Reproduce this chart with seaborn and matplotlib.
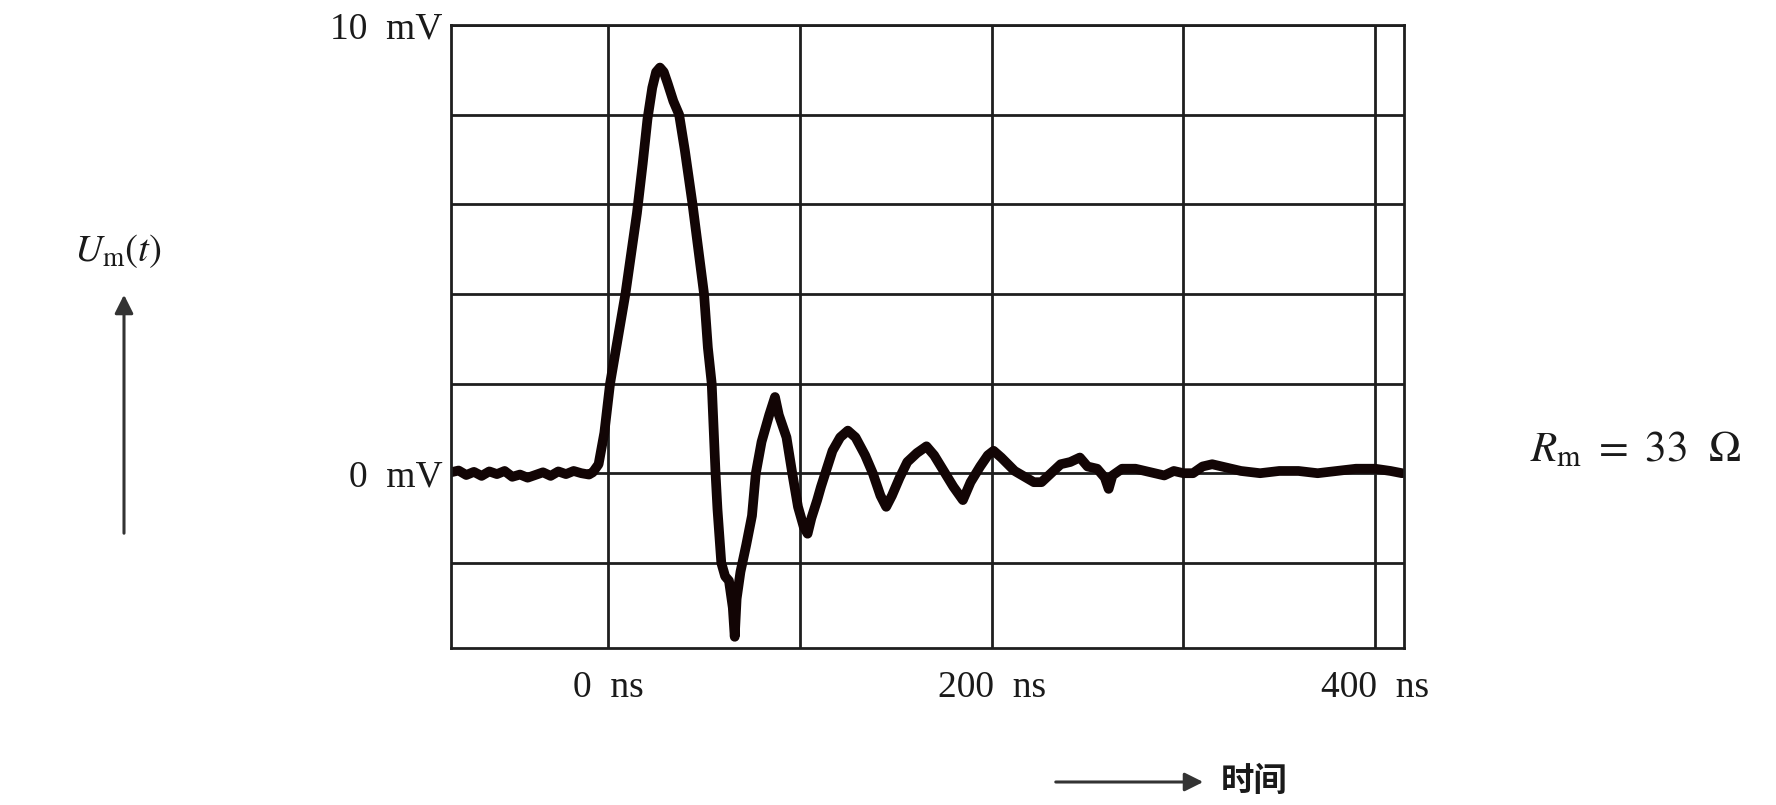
import pandas as pd
import seaborn as sns
import matplotlib.pyplot as plt

# waveform (time in ns, voltage in mV)
time_ns = [-82, -78, -74, -70, -66, -62, -58, -54, -50, -46, -42, -38, -34, -30, -26, -22, -18, -14, -10, -8,
           -5, -2, 1, 5, 9, 12, 15, 18, 20.5, 23, 25, 27, 29, 31, 34, 37, 40, 44, 47, 50, 52, 54,
           56, 57, 59, 61, 63, 65, 66, 67, 69, 72, 75, 77, 80, 84, 87, 89, 91, 93, 96, 99,
           102, 104, 106, 109, 111, 114, 117, 121, 125, 129, 134, 138, 142, 145, 148, 152, 156,
           161, 166, 170, 175, 180, 185, 189, 194, 198, 201, 205, 212, 218, 222, 226, 231, 236,
           241, 246, 250, 255, 259, 261, 263, 268, 275, 280, 285, 290, 295, 300, 305, 310, 315,
           320, 330, 340, 350, 360, 370, 380, 390, 400, 408, 414]
volt_mv = [0.02, 0.06, -0.04, 0.03, -0.06, 0.04, -0.02, 0.05, -0.08, -0.03, -0.1, -0.04, 0.02, -0.06, 0.04, -0.02, 0.05, 0.0, -0.03, 0.02,
           0.2, 0.9, 2.0, 3.0, 4.0, 4.9, 5.8, 6.9, 7.9, 8.6, 8.95, 9.05, 8.95, 8.7, 8.3, 8.0, 7.2, 6.0, 5.0, 4.0, 2.8, 2.0,
           0.0, -0.8, -2.0, -2.3, -2.4, -3.0, -3.65, -2.8, -2.2, -1.6, -0.95, 0.0, 0.7, 1.3, 1.7, 1.3, 1.05, 0.8, 0.0, -0.75,
           -1.2, -1.35, -1.0, -0.6, -0.3, 0.1, 0.5, 0.8, 0.95, 0.8, 0.4, 0.0, -0.5, -0.75, -0.5, -0.1, 0.25,
           0.45, 0.6, 0.4, 0.05, -0.3, -0.6, -0.2, 0.15, 0.4, 0.5, 0.35, 0.05, -0.1, -0.2, -0.2, 0.0, 0.2,
           0.25, 0.35, 0.15, 0.1, -0.1, -0.35, -0.05, 0.1, 0.1, 0.05, 0.0, -0.05, 0.05, 0.0, 0.0, 0.15, 0.2,
           0.15, 0.05, 0.0, 0.05, 0.05, 0.0, 0.05, 0.1, 0.1, 0.05, 0.0]

x_grid = [0, 100, 200, 300, 400]
x_labels = ["0  ns", "", "200  ns", "", "400  ns"]
y_grid = [-2, 0, 2, 4, 6, 8, 10]
y_labels = ["", "0  mV", "", "", "", "", "10  mV"]

sns.set_style("white")
plt.rcParams['font.family'] = ['Liberation Serif', 'DejaVu Sans']
plt.rcParams['mathtext.fontset'] = 'stix'

df = pd.DataFrame({"t": time_ns, "u": volt_mv})

fig = plt.figure(figsize=(17.76, 8.05), dpi=100)
ax = fig.add_axes([0.2539, 0.195, 0.5366, 0.774])

sns.lineplot(data=df, x="t", y="u", ax=ax, color="#120505", lw=7, sort=False)

ax.set_xlim(-82, 415)
ax.set_ylim(-3.9, 10)
ax.set_xticks(x_grid)
ax.set_xticklabels(x_labels)
ax.set_yticks(y_grid)
ax.set_yticklabels(y_labels)
ax.tick_params(length=0, labelsize=27, colors="#1a1a1a")
ax.tick_params(axis="x", pad=16)
ax.tick_params(axis="y", pad=6)
ax.grid(True, color="#1e1e1e", lw=2)
ax.set_axisbelow(True)
for s in ax.spines.values():
    s.set_color("#1e1e1e")
    s.set_linewidth(2)
ax.set_xlabel("")
ax.set_ylabel("")

# annotations outside the screen
fig.text(0.0664, 0.688, r"$U_{\mathrm{m}}(t)$", fontsize=28, ha="center", va="center", color="#1a1a1a")
ax.annotate("", xy=(124, 805 - 292), xytext=(124, 805 - 536), xycoords="figure pixels",
            arrowprops=dict(arrowstyle="-|>", lw=2.2, color="#333333", mutation_scale=28))
fig.text(0.921, 0.44, r"$R_{\mathrm{m}}\ =\ 33\ \ \Omega$", fontsize=31, ha="center", va="center", color="#1a1a1a")
ax.annotate("", xy=(1206, 23), xytext=(1053, 23), xycoords="figure pixels",
            arrowprops=dict(arrowstyle="-|>", lw=2.2, color="#333333", mutation_scale=28))
fig.text(0.6875, 0.029, "时间", fontsize=24, fontweight="bold", family=["Noto Sans CJK SC", "DejaVu Sans"],
         ha="left", va="center", color="#1a1a1a")

plt.savefig("out.png", dpi=100)
plt.close()
